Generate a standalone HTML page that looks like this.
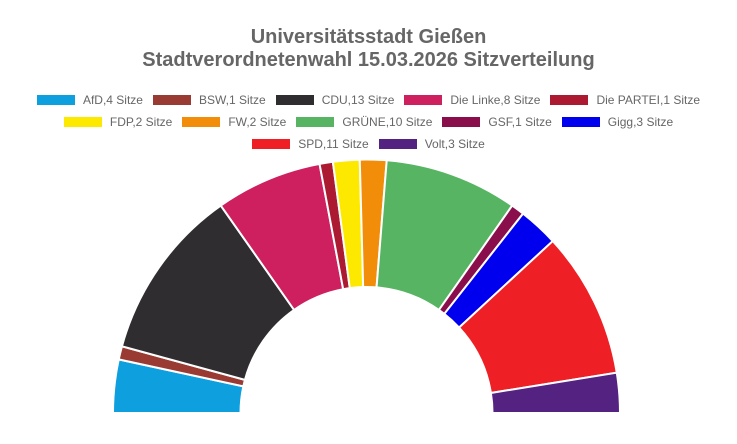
<!DOCTYPE html>
<html><head><meta charset="utf-8"><style>
body{margin:0;width:737px;height:444px;background:#fff;overflow:hidden;font-family:"Liberation Sans",Arial,sans-serif;position:relative}
#title{position:absolute;top:26px;left:0;width:737px;text-align:center;font-weight:bold;font-size:20px;color:#666;line-height:23px}
.row{position:absolute;left:0;width:737px;display:flex;justify-content:center;font-size:12px;color:#666}
.item{display:flex;align-items:center;margin:0 5px}
.sw{width:38px;height:10px;margin-right:8px}
svg{position:absolute;left:0;top:0}
</style></head><body>
<div id="title">Universitätsstadt Gießen<br>Stadtverordnetenwahl 15.03.2026 Sitzverteilung</div>
<div id="legend"></div>
<svg id="chart" width="737" height="444"></svg>
<script>
const parties=["AfD","BSW","CDU","Die Linke","Die PARTEI","FDP","FW","GRÜNE","GSF","Gigg","SPD","Volt"];
const seats=[4,1,13,8,1,2,2,10,1,3,11,3];
const colors=["#0e9fde","#9a3b33","#2f2d2f","#ce1f5e","#ab1a30","#fde900","#f28d0a","#56b462","#8a0e4b","#0000ee","#ee1f25","#542280"];
const rows=[[0,1,2,3,4],[5,6,7,8,9],[10,11]];
const rowY=[93,115,137];
const leg=document.getElementById('legend');
rows.forEach((r,ri)=>{
  const row=document.createElement('div');row.className='row';row.style.top=rowY[ri]+'px';
  
  
  r.forEach(i=>{
    const it=document.createElement('div');it.className='item';
    
    
    const sw=document.createElement('div');sw.className='sw';sw.style.background=colors[i];
    const t=document.createElement('span');t.textContent=parties[i]+','+seats[i]+' Sitze';
    it.appendChild(sw);it.appendChild(t);row.appendChild(it);
  });
  leg.appendChild(row);
});
const svg=document.getElementById('chart');
const cx=366.5,cy=413,R=253.5,r0=126;
const total=seats.reduce((a,b)=>a+b,0);
let acc=0;
function pt(rad,a){return [cx-rad*Math.cos(a),cy-rad*Math.sin(a)];}
seats.forEach((s,i)=>{
  const a0=acc/total*Math.PI,a1=(acc+s)/total*Math.PI;acc+=s;
  const p1=pt(R,a0),p2=pt(R,a1),p3=pt(r0,a1),p4=pt(r0,a0);
  const d=`M${p1[0]},${p1[1]} A${R},${R} 0 0 1 ${p2[0]},${p2[1]} L${p3[0]},${p3[1]} A${r0},${r0} 0 0 0 ${p4[0]},${p4[1]} Z`;
  const p=document.createElementNS('http://www.w3.org/2000/svg','path');
  p.setAttribute('d',d);p.setAttribute('fill',colors[i]);p.setAttribute('stroke','#fff');p.setAttribute('stroke-width','2');
  
  
  svg.appendChild(p);
});
</script>
</body></html>
